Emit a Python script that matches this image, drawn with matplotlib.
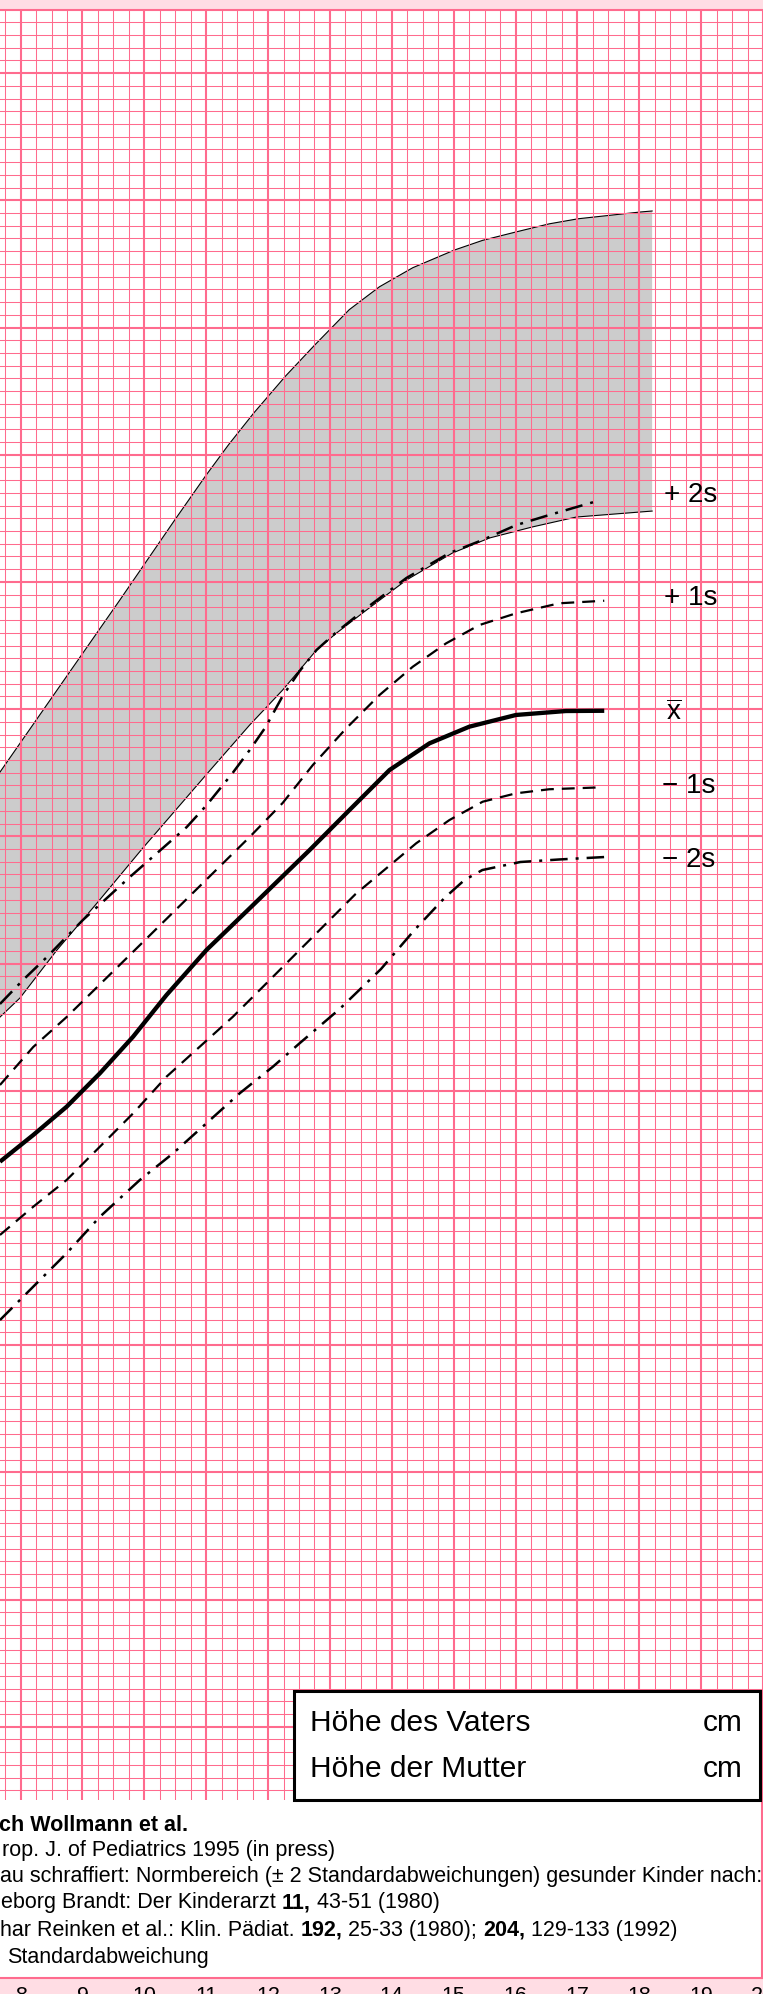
import numpy as np
import matplotlib.pyplot as plt
from matplotlib.patches import Rectangle

plt.rcParams['font.family'] = ['Liberation Sans', 'DejaVu Sans']
plt.rcParams['mathtext.fontset'] = 'custom'
plt.rcParams['mathtext.rm'] = 'Liberation Sans'

# normal range (grey band), age in years / height in cm
band_upper_age = [7.667, 8.636, 9.605, 10.492, 11.0, 11.364, 11.773, 12.286, 12.75, 13.312,
                  13.8, 14.339, 15.012, 15.467, 15.997, 16.545, 17.014, 18.015, 18.208]
band_upper_cm = [135.05, 141.82, 148.58, 154.87, 158.4, 160.8, 163.3, 166.2, 168.6, 171.4,
                 173.2, 174.7, 176.09, 176.85, 177.5, 178.15, 178.55, 179.08, 179.16]
band_lower_age = [7.667, 7.990, 8.588, 9.249, 9.976, 11.025, 11.703, 12.236, 12.784,
                  13.107, 13.592, 14.237, 14.980, 15.577, 16.271, 16.982, 18.208]
band_lower_cm = [115.79, 117.29, 121.06, 124.83, 129.08, 134.98, 138.75, 141.50, 144.65,
                 145.98, 147.79, 150.15, 152.27, 153.45, 154.32, 155.10, 155.57]

# percentile curves
plus2_age = [7.667, 8.039, 8.426, 9.007, 9.766, 10.686, 11.009, 11.428, 11.703, 11.961,
             12.236, 12.510, 12.784, 13.107, 13.592, 14.237, 14.932, 15.464, 16.013,
             16.545, 17.321]
plus2_cm = [116.82, 118.70, 120.51, 123.42, 126.80, 130.73, 132.46, 134.98, 136.78, 138.59,
            141.03, 142.99, 144.65, 146.06, 147.95, 150.31, 152.27, 153.29, 154.47,
            155.26, 156.36]
plus1_age = [7.667, 8.205, 8.744, 9.766, 10.735, 11.703, 12.236, 12.725, 13.264, 13.802,
             14.339, 14.878, 15.416, 16.008, 16.707, 17.434]
plus1_cm = [110.45, 113.44, 115.79, 120.67, 125.31, 129.95, 132.62, 135.61, 138.49, 141.11,
            143.33, 145.17, 146.61, 147.53, 148.32, 148.52]
mean_age = [7.667, 8.205, 8.744, 9.282, 9.819, 10.358, 11.004, 11.703, 12.672, 13.317,
            13.963, 14.609, 15.254, 16.008, 16.815, 17.434]
mean_cm = [104.42, 106.52, 108.74, 111.37, 114.25, 117.52, 121.06, 124.34, 128.92, 132.07,
           135.21, 137.31, 138.62, 139.54, 139.85, 139.87]
minus1_age = [7.667, 8.205, 8.744, 9.282, 9.819, 10.358, 10.896, 11.433, 11.973, 12.457,
              13.414, 14.394, 14.932, 15.469, 16.008, 16.545, 17.380]
minus1_cm = [98.66, 100.88, 102.98, 105.60, 108.22, 111.10, 113.46, 115.82, 118.44, 120.80,
             125.46, 129.45, 131.28, 132.72, 133.38, 133.70, 133.85]
minus2_age = [7.667, 7.990, 8.744, 9.282, 9.927, 10.465, 11.004, 11.542, 12.079, 12.510,
              13.156, 13.826, 14.366, 14.851, 15.174, 15.464, 16.077, 16.707, 17.434]
minus2_cm = [91.97, 93.55, 97.22, 100.09, 102.98, 105.08, 107.44, 109.80, 111.89, 113.73,
             116.42, 119.57, 122.63, 125.15, 126.56, 127.35, 127.98, 128.18, 128.37]

age_ticks = list(range(8, 21))
curve_labels = ["+ 2s", "+ 1s", r"$\overline{\mathrm{x}}$", "\u2212 1s", "\u2212 2s"]
parent_rows = ["Höhe des Vaters", "Höhe der Mutter"]
parent_unit = "cm"
footer_lines = [
    [("ch Wollmann et al.", "bold")],
    [("rop. J. of Pediatrics 1995 (in press)", "normal")],
    [("au schraffiert: Normbereich (\u00b1 2 Standardabweichungen) gesunder Kinder nach:", "normal")],
    [("eborg Brandt: Der Kinderarzt ", "normal"), ("11,", "bold"), (" 43-51 (1980)", "normal")],
    [("har Reinken et al.: Klin. Pädiat. ", "normal"), ("192,", "bold"),
     (" 25-33 (1980); ", "normal"), ("204,", "bold"), (" 129-133 (1992)", "normal")],
    [("Standardabweichung", "normal")],
]

W, H = 763, 1994
PINK = '#ff6b8e'
LIGHT_PINK = '#ffdde4'


def fy(y):
    return 1 - y / H


fig = plt.figure(figsize=(W / 100, H / 100), dpi=100)
fig.patch.set_facecolor('white')

# top strip
fig.add_artist(Rectangle((0, fy(9.5)), 1, 1 - fy(9.5), transform=fig.transFigure,
                         facecolor=LIGHT_PINK, edgecolor='none', zorder=0))

# --- main grid axes ---
ax = fig.add_axes([0, fy(1800), 1, fy(9.5) - fy(1800)])
ax.set_xlim(7.6675, 19.984)
ax.set_ylim(54.24, 195)
ax.set_xticks(np.arange(8, 21, 1))
ax.set_xticks(np.arange(7.75, 20, 0.25), minor=True)
ax.set_yticks(np.arange(60, 195, 10))
ax.set_yticks(np.arange(55, 195, 1), minor=True)
ax.tick_params(which='both', length=0, labelbottom=False, labelleft=False)
ax.grid(which='major', color=PINK, lw=1.5)
ax.grid(which='minor', color=PINK, lw=0.75)
for side in ['left', 'right', 'bottom']:
    ax.spines[side].set_visible(False)
ax.spines['top'].set_color(PINK)
ax.spines['top'].set_linewidth(1.5)

ax.fill(np.r_[band_upper_age, band_lower_age[::-1]],
        np.r_[band_upper_cm, band_lower_cm[::-1]],
        color='#cccccc', lw=0, zorder=1)
ax.plot(band_upper_age, band_upper_cm, color='black', lw=0.8, zorder=1.2)
ax.plot(band_lower_age, band_lower_cm, color='black', lw=0.8, zorder=1.2)

dashdot = (0, (7, 3.2, 1.2, 3.2))
dashed = (0, (5.8, 3.6))
ax.plot(plus2_age, plus2_cm, color='black', lw=1.8, linestyle=dashdot, zorder=3)
ax.plot(plus1_age, plus1_cm, color='black', lw=1.6, linestyle=dashed, zorder=3)
ax.plot(mean_age, mean_cm, color='black', lw=3.1, solid_capstyle='butt', zorder=3)
ax.plot(minus1_age, minus1_cm, color='black', lw=1.6, linestyle=dashed, zorder=3)
ax.plot(minus2_age, minus2_cm, color='black', lw=1.8, linestyle=dashdot, zorder=3)

# --- bottom strip with age labels ---
axb = fig.add_axes([0, 0, 1, fy(1978)])
axb.set_xlim(ax.get_xlim())
axb.set_ylim(0, 1)
axb.set_facecolor(LIGHT_PINK)
axb.set_xticks([])
axb.set_yticks([])
for side in ['left', 'right', 'bottom']:
    axb.spines[side].set_visible(False)
axb.spines['top'].set_color(PINK)
axb.spines['top'].set_linewidth(1.5)
for a in age_ticks:
    axb.text(a, -0.5, str(a), transform=axb.get_xaxis_transform(), ha='center',
             va='baseline', fontsize=15.5, clip_on=False)

# --- overlay in pixel coordinates for labels, box and footer ---
axt = fig.add_axes([0, 0, 1, 1])
axt.set_xlim(0, W)
axt.set_ylim(H, 0)
axt.axis('off')

label_pos = [(663.5, 501.7), (663.5, 605), (666, 720), (662, 793.3), (662, 867.3)]
for (lx, ly), lab in zip(label_pos, curve_labels):
    axt.text(lx, ly, lab, fontsize=20, va='baseline', ha='left')

# parents' height box
axt.add_patch(Rectangle((294, 1691), 466, 109, facecolor='white', edgecolor='black',
                        lw=2.2, zorder=5))
for row, by in zip(parent_rows, [1730.7, 1776.7]):
    axt.text(310.5, by, row, fontsize=21.5, va='baseline', ha='left', zorder=6)
    axt.text(742.5, by, parent_unit, fontsize=21.5, va='baseline', ha='right', zorder=6)

# footer frame line on the right
axt.plot([762, 762], [1800, 1978], color=PINK, lw=1.5)

footer_x = [-1, 2, 0, 1, 0, 7]
footer_base = [1831, 1856, 1882, 1908, 1935.5, 1962.5]
for x0, y0, parts in zip(footer_x, footer_base, footer_lines):
    txt, wt = parts[0]
    prev = axt.text(x0, y0, txt, fontsize=15.5, fontweight=wt, va='baseline', ha='left')
    for txt, wt in parts[1:]:
        prev = axt.annotate(txt, xy=(1, 0), xycoords=prev, va='bottom', ha='left',
                            fontsize=15.5, fontweight=wt)

fig.savefig('out.png', dpi=100)
